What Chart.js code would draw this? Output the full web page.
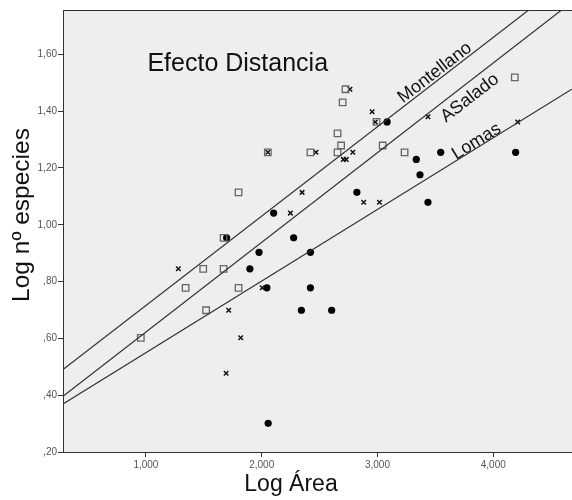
<!DOCTYPE html>
<html>
<head>
<meta charset="utf-8">
<script src="https://cdn.jsdelivr.net/npm/chart.js@4"></script>
<style>
  body { margin: 0; background: #fff; }
  #wrap { width: 572px; height: 500px; }
</style>
</head>
<body>
<div id="wrap"><canvas id="chart"></canvas></div>
<script>
// tick values
var xTicks = [1, 2, 3, 4];
var yTicks = [0.2, 0.4, 0.6, 0.8, 1.0, 1.2, 1.4, 1.6];

// open squares
var montX = [0.956, 1.343, 1.495, 1.52, 1.671, 1.671, 1.80, 1.80, 2.053, 2.421, 2.655, 2.655, 2.686, 2.699, 2.724, 2.992, 3.045, 3.234, 4.186];
var montY = [0.602, 0.778, 0.845, 0.699, 0.845, 0.954, 1.114, 0.778, 1.255, 1.255, 1.255, 1.322, 1.279, 1.431, 1.477, 1.362, 1.279, 1.255, 1.519];

// crosses
var asalX = [1.28, 1.693, 1.715, 1.819, 2.005, 2.053, 2.248, 2.349, 2.469, 2.705, 2.73, 2.762, 2.787, 2.881, 2.954, 2.982, 3.017, 3.436, 4.211];
var asalY = [0.845, 0.477, 0.699, 0.602, 0.778, 1.255, 1.041, 1.114, 1.255, 1.230, 1.230, 1.477, 1.255, 1.079, 1.398, 1.362, 1.079, 1.380, 1.362];

// filled circles
var lomaX = [1.697, 1.898, 1.977, 2.045, 2.056, 2.103, 2.276, 2.343, 2.421, 2.421, 2.604, 2.822, 3.083, 3.335, 3.367, 3.436, 3.546, 4.193];
var lomaY = [0.954, 0.845, 0.903, 0.778, 0.301, 1.041, 0.954, 0.699, 0.903, 0.778, 0.699, 1.114, 1.362, 1.230, 1.176, 1.079, 1.255, 1.255];

// fit lines (end points)
var montLine = [{x: 0.284, y: 0.490}, {x: 4.306, y: 1.756}];
var asalLine = [{x: 0.284, y: 0.396}, {x: 4.590, y: 1.756}];
var lomaLine = [{x: 0.284, y: 0.369}, {x: 4.678, y: 1.477}];

function pts(xs, ys) {
  var out = [];
  for (let i = 0; i < xs.length; i++) {
    out.push({x: xs[i], y: ys[i]});
  }
  return out;
}

var FONT = '"Liberation Sans", Arial, sans-serif';

var bgPlugin = {
  id: 'bg',
  beforeDraw: function(chart) {
    var a = chart.chartArea, ctx = chart.ctx;
    ctx.save();
    ctx.fillStyle = '#eeeeee';
    ctx.fillRect(a.left, a.top, a.right - a.left, a.bottom - a.top);
    ctx.restore();
  },
  afterDraw: function(chart) {
    var a = chart.chartArea, ctx = chart.ctx;
    ctx.save();
    ctx.strokeStyle = '#333';
    ctx.lineWidth = 1;
    ctx.beginPath();
    ctx.moveTo(a.left, a.top + 0.5);
    ctx.lineTo(a.right, a.top + 0.5);
    ctx.stroke();

    // axis titles (SPSS puts them off the plot centre)
    ctx.fillStyle = '#111';
    ctx.textAlign = 'center';
    ctx.textBaseline = 'middle';
    ctx.font = '23px ' + FONT;
    ctx.fillText('Log Área', 291, 485);
    ctx.translate(22, 215);
    ctx.rotate(-Math.PI / 2);
    ctx.font = '24.5px ' + FONT;
    ctx.fillText('Log nº especies', 0, 0);
    ctx.restore();
  }
};

var labelPlugin = {
  id: 'labels',
  afterDatasetsDraw: function(chart) {
    var ctx = chart.ctx;
    var xs = chart.scales.x, ys = chart.scales.y;
    ctx.save();
    ctx.fillStyle = '#111';
    ctx.font = '25px ' + FONT;
    ctx.textAlign = 'left';
    ctx.textBaseline = 'alphabetic';
    ctx.fillText('Efecto Distancia', xs.getPixelForValue(1.013), ys.getPixelForValue(1.543));

    var lbls = [
      {text: 'Montellano', x: 3.496, y: 1.535, line: montLine},
      {text: 'ASalado', x: 3.798, y: 1.446, line: asalLine},
      {text: 'Lomas', x: 3.856, y: 1.293, line: lomaLine}
    ];
    ctx.font = '18px ' + FONT;
    ctx.textAlign = 'center';
    ctx.textBaseline = 'middle';
    lbls.forEach(function(l) {
      var p0x = xs.getPixelForValue(l.line[0].x), p0y = ys.getPixelForValue(l.line[0].y);
      var p1x = xs.getPixelForValue(l.line[1].x), p1y = ys.getPixelForValue(l.line[1].y);
      var ang = Math.atan2(p1y - p0y, p1x - p0x);
      ctx.save();
      ctx.translate(xs.getPixelForValue(l.x), ys.getPixelForValue(l.y));
      ctx.rotate(ang);
      ctx.fillText(l.text, 0, 0);
      ctx.restore();
    });
    ctx.restore();
  }
};

var lineStyle = {
  type: 'line',
  borderColor: '#333',
  borderWidth: 1.2,
  pointRadius: 0,
  fill: false
};

var ctx = document.getElementById('chart').getContext('2d');
var config = {
  type: 'scatter',
  data: {
    datasets: [
      Object.assign({label: 'Montellano fit', data: montLine}, lineStyle),
      Object.assign({label: 'ASalado fit', data: asalLine}, lineStyle),
      Object.assign({label: 'Lomas fit', data: lomaLine}, lineStyle),
      {
        label: 'Montellano',
        data: pts(montX, montY),
        pointStyle: 'rect',
        pointRadius: 4.6,
        borderColor: '#666',
        borderWidth: 1.3,
        backgroundColor: 'rgba(0,0,0,0)'
      },
      {
        label: 'ASalado',
        data: pts(asalX, asalY),
        pointStyle: 'crossRot',
        pointRadius: 3.2,
        borderColor: '#111',
        borderWidth: 1.5
      },
      {
        label: 'Lomas',
        data: pts(lomaX, lomaY),
        pointStyle: 'circle',
        pointRadius: 3.6,
        borderWidth: 0,
        backgroundColor: '#000'
      }
    ]
  },
  options: {
    responsive: true,
    maintainAspectRatio: false,
    animation: false,
    layout: { autoPadding: false, padding: { top: 10, right: 0, left: 0, bottom: 0 } },
    plugins: {
      legend: { display: false },
      tooltip: { enabled: false }
    },
    scales: {
      x: {
        type: 'linear',
        min: 0.284,
        max: 4.68,
        afterFit: function(scale) { scale.height = 48; },
        afterBuildTicks: function(scale) {
          scale.ticks = xTicks.map(function(v) { return {value: v}; });
        },
        grid: { drawOnChartArea: false, drawTicks: true, tickLength: 5, color: '#333' },
        border: { color: '#333', width: 1 },
        ticks: {
          padding: 2,
          color: '#555',
          font: { family: FONT, size: 10 },
          callback: function(v) { return v.toFixed(3).replace('.', ','); }
        }
      },
      y: {
        type: 'linear',
        min: 0.2,
        max: 1.756,
        afterFit: function(scale) { scale.width = 63; },
        afterBuildTicks: function(scale) {
          scale.ticks = yTicks.map(function(v) { return {value: v}; });
        },
        grid: { drawOnChartArea: false, drawTicks: true, tickLength: 5, color: '#333' },
        border: { color: '#333', width: 1 },
        ticks: {
          padding: 1,
          color: '#555',
          font: { family: FONT, size: 10 },
          callback: function(v) { return v.toFixed(2).replace('.', ',').replace(/^0/, ''); }
        }
      }
    }
  },
  plugins: [bgPlugin, labelPlugin]
};

var myChart = new Chart(ctx, config);
</script>
</body>
</html>
